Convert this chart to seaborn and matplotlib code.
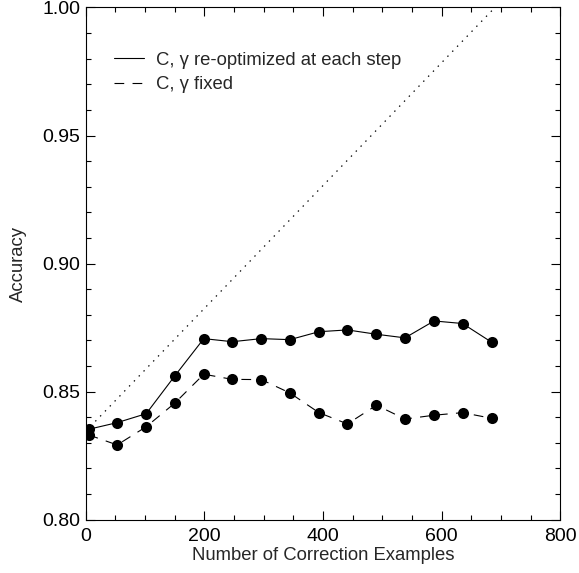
import numpy as np
import pandas as pd
import matplotlib
matplotlib.use('Agg')
import matplotlib.pyplot as plt
from matplotlib.lines import Line2D
from matplotlib.ticker import MultipleLocator
import seaborn as sns

# ---------------- data ----------------
n_examples = [5, 53, 102, 150, 199, 247, 296, 344, 393, 441, 490, 538, 587, 635, 684]
acc_reopt = [0.8353, 0.8379, 0.8414, 0.8561, 0.8707, 0.8695, 0.8707, 0.8703,
             0.8734, 0.8741, 0.8724, 0.8710, 0.8776, 0.8766, 0.8693]
acc_fixed = [0.8331, 0.8292, 0.8363, 0.8455, 0.8568, 0.8548, 0.8547, 0.8495,
             0.8418, 0.8374, 0.8447, 0.8393, 0.8408, 0.8418, 0.8396]
# dotted reference line
ref_x = [0, 800]
ref_y = [0.8345, 1.0265]

label_reopt = 'C, \u03b3 re-optimized at each step'
label_fixed = 'C, \u03b3 fixed'

df = pd.DataFrame({
    'n': n_examples * 2,
    'acc': acc_reopt + acc_fixed,
    'setting': [label_reopt] * len(n_examples) + [label_fixed] * len(n_examples),
})
ref_df = pd.DataFrame({'n': ref_x, 'acc': ref_y})

# ---------------- plotting ----------------
sns.set_style('ticks')
plt.rcParams['font.family'] = ['Liberation Sans', 'DejaVu Sans']
plt.rcParams['lines.scale_dashes'] = False
fs = 13.3

fig = plt.figure(figsize=(5.79, 5.73), dpi=100)
ax = fig.add_axes([0.148, 0.093, 0.820, 0.894])

sns.lineplot(data=ref_df, x='n', y='acc', color='k', lw=0.9,
             linestyle=(0, (1, 4)), ax=ax)
sns.lineplot(data=df[df.setting == label_reopt], x='n', y='acc', color='k',
             lw=0.8, marker='o', markersize=8, markeredgewidth=0, ax=ax)
sns.lineplot(data=df[df.setting == label_fixed], x='n', y='acc', color='k',
             lw=0.8, linestyle=(0, (7, 6)), marker='o', markersize=8,
             markeredgewidth=0, ax=ax)

# format axes
ax.set_xlim(0, 800)
ax.set_ylim(0.80, 1.00)
ax.xaxis.set_major_locator(MultipleLocator(200))
ax.xaxis.set_minor_locator(MultipleLocator(50))
ax.yaxis.set_major_locator(MultipleLocator(0.05))
ax.yaxis.set_minor_locator(MultipleLocator(0.01))
ax.yaxis.set_major_formatter(matplotlib.ticker.FormatStrFormatter('%.2f'))
ax.tick_params(which='both', direction='in', top=True, right=True,
               labelsize=14, width=0.8, colors='k')
ax.tick_params(which='major', length=6.5)
ax.tick_params(axis='x', which='major', pad=6)
ax.tick_params(axis='y', which='major', pad=4)
ax.tick_params(which='minor', length=3.5)
for s in ax.spines.values():
    s.set_linewidth(0.8)
    s.set_color('k')

ax.set_xlabel('Number of Correction Examples', fontsize=fs, labelpad=1.5)
ax.set_ylabel('Accuracy', fontsize=fs, labelpad=11)

# legend with line handles only
handles = [Line2D([], [], color='k', lw=0.8),
           Line2D([], [], color='k', lw=0.8, linestyle=(0, (7, 6)))]
ax.legend(handles, [label_reopt, label_fixed], loc='upper left',
          bbox_to_anchor=(0.025, 0.946), frameon=False, fontsize=fs,
          handlelength=1.6, handletextpad=0.69, labelspacing=0.4)

plt.savefig('out.png', dpi=100)
